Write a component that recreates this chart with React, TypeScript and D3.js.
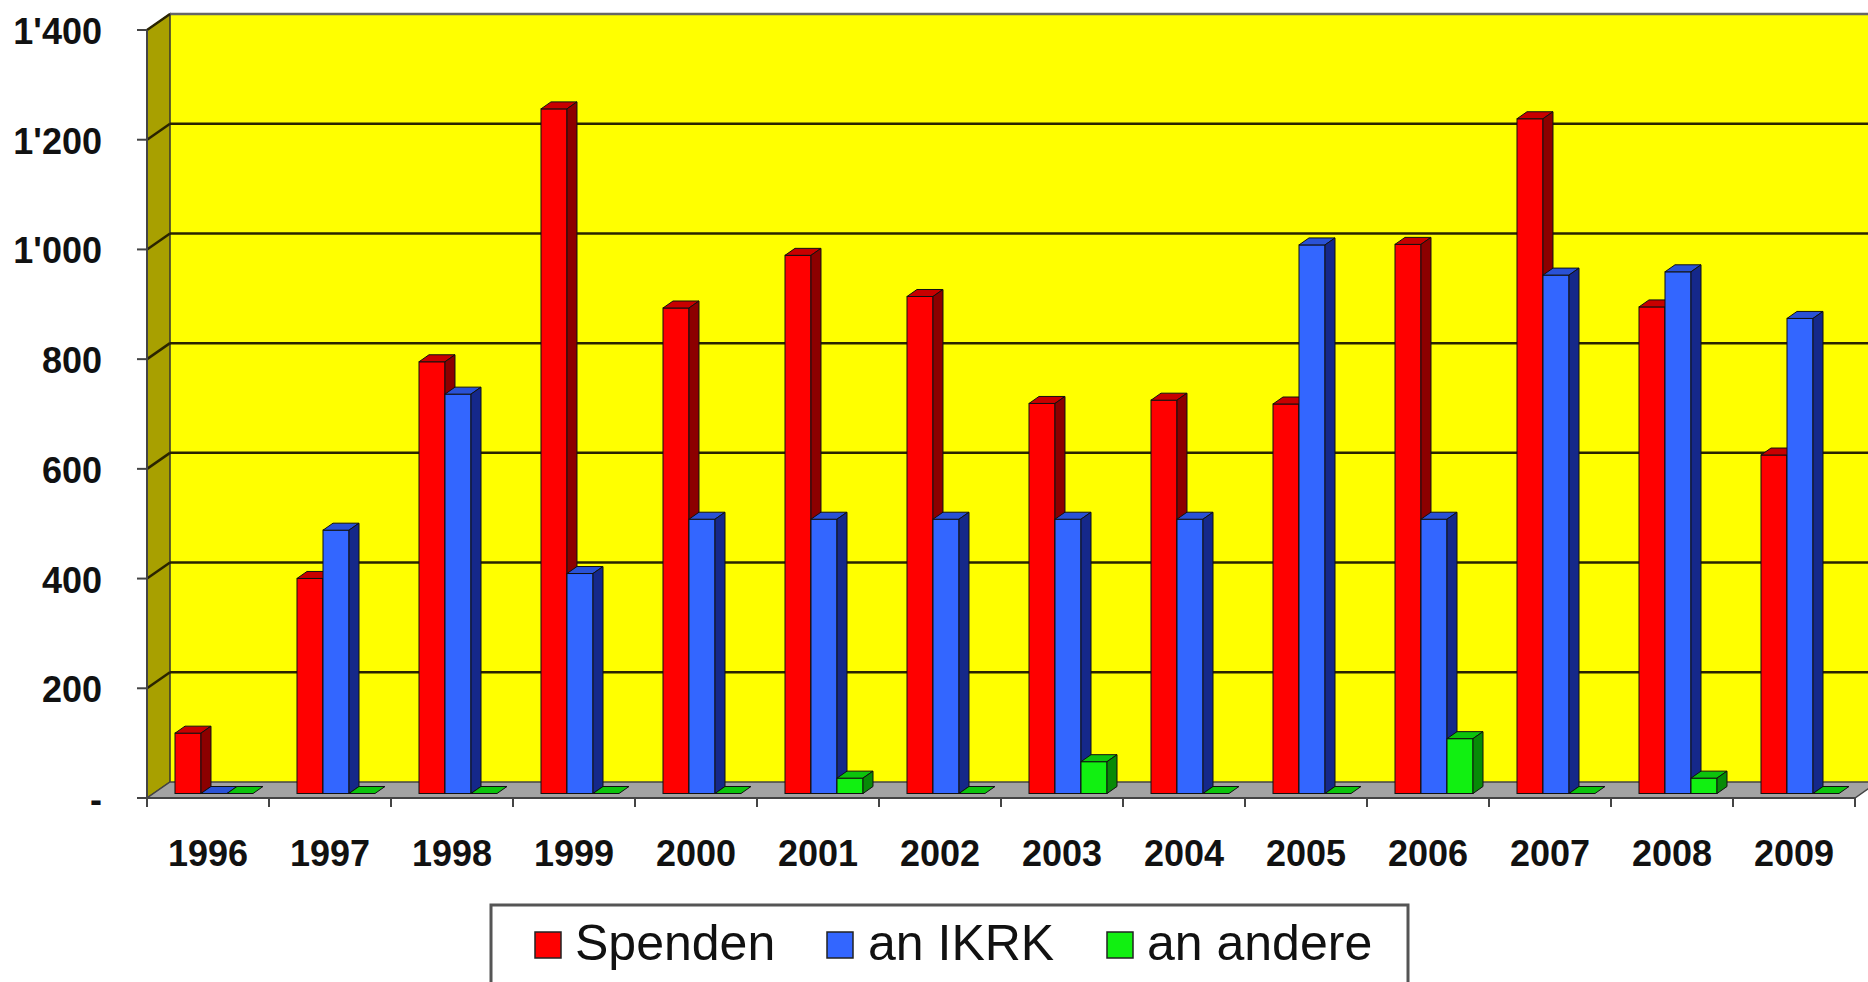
import * as d3 from "d3";

const years = ["1996", "1997", "1998", "1999", "2000", "2001", "2002", "2003", "2004", "2005", "2006", "2007", "2008", "2009"];
const seriesNames = ["Spenden", "an IKRK", "an andere"];
const spenden = [110, 392, 787, 1248, 885, 981, 906, 711, 717, 710, 1001, 1230, 887, 617];
const anIkrk = [0, 480, 728, 401, 500, 500, 500, 500, 500, 1000, 500, 945, 951, 866];
const anAndere = [0, 0, 0, 0, 0, 28, 0, 58, 0, 0, 100, 0, 28, 0];
const yTicks = [0, 200, 400, 600, 800, 1000, 1200, 1400];
const yTickLabels = ["-", "200", "400", "600", "800", "1'000", "1'200", "1'400"];

const WIDTH = 1868;
const HEIGHT = 982;
const PLOT = { left: 147, right: 1855, top: 30, bottom: 798 };
const DEPTH = { dx: 23, dy: -16 };
const BAR_OFF = { dx: 6, dy: -4.5 };
const BAR_DEPTH = { dx: 10, dy: -7 };
const FONT = "'Liberation Sans', Arial, Helvetica, sans-serif";

const COLORS = [
  { front: "#ff0000", top: "#c80000", side: "#8c0000" },
  { front: "#3366ff", top: "#2a52d6", side: "#15288a" },
  { front: "#11f011", top: "#0cc40c", side: "#078a07" },
];

const pts = (p: [number, number][]) => p.map((d) => d.join(",")).join(" ");

export default function App() {
  const values = [spenden, anIkrk, anAndere];

  const xScale = d3.scaleBand().domain(years).range([PLOT.left, PLOT.right]).padding(0);
  const xSeries = d3
    .scaleBand()
    .domain(seriesNames)
    .range([0, xScale.bandwidth()])
    .paddingInner(0)
    .paddingOuter(0.846);
  const yScale = d3.scaleLinear().domain([0, 1400]).range([PLOT.bottom, PLOT.top]);

  const backLeft = PLOT.left + DEPTH.dx;
  const backRight = WIDTH + 40;
  const y0 = yScale(0);
  const yTop = yScale(1400);

  // walls and floor
  const walls = (
    <g>
      <rect x={backLeft} y={yTop + DEPTH.dy} width={backRight - backLeft} height={y0 - yTop} fill="#ffff00" />
      <polygon
        points={pts([
          [PLOT.left, yTop],
          [backLeft, yTop + DEPTH.dy],
          [backLeft, y0 + DEPTH.dy],
          [PLOT.left, y0],
        ])}
        fill="#a8a000"
        stroke="#333"
        strokeWidth={1.5}
      />
      <polygon
        points={pts([
          [PLOT.left, y0],
          [PLOT.right, y0],
          [PLOT.right + DEPTH.dx, y0 + DEPTH.dy],
          [backLeft, y0 + DEPTH.dy],
        ])}
        fill="#a3a3a3"
        stroke="#444"
        strokeWidth={1.5}
      />
    </g>
  );

  const grid = yTicks.slice(1).map((v, i) => (
    <g key={i}>
      <line x1={backLeft} x2={backRight} y1={yScale(v) + DEPTH.dy} y2={yScale(v) + DEPTH.dy} stroke={i === yTicks.length - 2 ? "#666" : "#2a2400"} strokeWidth={2.5} />
      <line x1={PLOT.left} x2={backLeft} y1={yScale(v)} y2={yScale(v) + DEPTH.dy} stroke="#2a2400" strokeWidth={2.5} />
    </g>
  ));

  const bars = years.map((year, i) => (
    <g key={year}>
      {seriesNames.map((name, s) => {
        const v = values[s][i];
        const c = COLORS[s];
        const x0 = (xScale(year) || 0) + (xSeries(name) || 0) + BAR_OFF.dx;
        const w = xSeries.bandwidth();
        const yt = yScale(v) + BAR_OFF.dy;
        const yb = y0 + BAR_OFF.dy;
        const topFace = (
          <polygon
            points={pts([
              [x0, yt],
              [x0 + BAR_DEPTH.dx, yt + BAR_DEPTH.dy],
              [x0 + w + BAR_DEPTH.dx, yt + BAR_DEPTH.dy],
              [x0 + w, yt],
            ])}
            fill={c.top}
            stroke="#111"
            strokeWidth={1}
          />
        );
        if (v === 0) return <g key={name}>{topFace}</g>;
        return (
          <g key={name}>
            <rect x={x0} y={yt} width={w} height={yb - yt} fill={c.front} stroke="#111" strokeWidth={1} />
            {topFace}
            <polygon
              points={pts([
                [x0 + w, yt],
                [x0 + w + BAR_DEPTH.dx, yt + BAR_DEPTH.dy],
                [x0 + w + BAR_DEPTH.dx, yb + BAR_DEPTH.dy],
                [x0 + w, yb],
              ])}
              fill={c.side}
              stroke="#111"
              strokeWidth={1}
            />
          </g>
        );
      })}
    </g>
  ));

  const xAxis = (
    <g>
      <line x1={PLOT.left} x2={PLOT.right} y1={y0} y2={y0} stroke="#444" strokeWidth={2} />
      {d3.range(years.length + 1).map((i) => {
        const x = PLOT.left + i * xScale.step();
        return <line key={i} x1={x} x2={x} y1={y0} y2={y0 + 9} stroke="#444" strokeWidth={2} />;
      })}
      {years.map((year) => (
        <text
          key={year}
          x={(xScale(year) || 0) + xScale.bandwidth() / 2}
          y={y0 + 68}
          textAnchor="middle"
          fontFamily={FONT}
          fontWeight="bold"
          fontSize={36}
          fill="#111"
        >
          {year}
        </text>
      ))}
    </g>
  );

  const yAxis = (
    <g>
      <line x1={PLOT.left} x2={PLOT.left} y1={yTop} y2={y0} stroke="#444" strokeWidth={2} />
      {yTicks.map((v, i) => (
        <g key={v}>
          <line x1={PLOT.left - 10} x2={PLOT.left} y1={yScale(v)} y2={yScale(v)} stroke="#444" strokeWidth={2} />
          <text
            x={102}
            y={yScale(v) + 14}
            textAnchor="end"
            fontFamily={FONT}
            fontWeight="bold"
            fontSize={36}
            fill="#111"
          >
            {yTickLabels[i]}
          </text>
        </g>
      ))}
    </g>
  );

  const legendItems = [
    { sw: 535, tx: 575 },
    { sw: 827, tx: 868 },
    { sw: 1107, tx: 1147 },
  ];

  const legend = (
    <g>
      <rect x={491} y={905} width={917} height={100} fill="#fff" stroke="#555" strokeWidth={3} />
      {seriesNames.map((name, s) => (
        <g key={name}>
          <rect x={legendItems[s].sw} y={932} width={26} height={26} fill={COLORS[s].front} stroke="#222" strokeWidth={1.5} />
          <text x={legendItems[s].tx} y={960} fontFamily={FONT} fontSize={50} fill="#111">
            {name}
          </text>
        </g>
      ))}
    </g>
  );

  return (
    <svg width={WIDTH} height={HEIGHT} style={{ position: "absolute", left: 0, top: 0, background: "#fff" }}>
      {walls}
      {grid}
      {bars}
      {xAxis}
      {yAxis}
      {legend}
    </svg>
  );
}
